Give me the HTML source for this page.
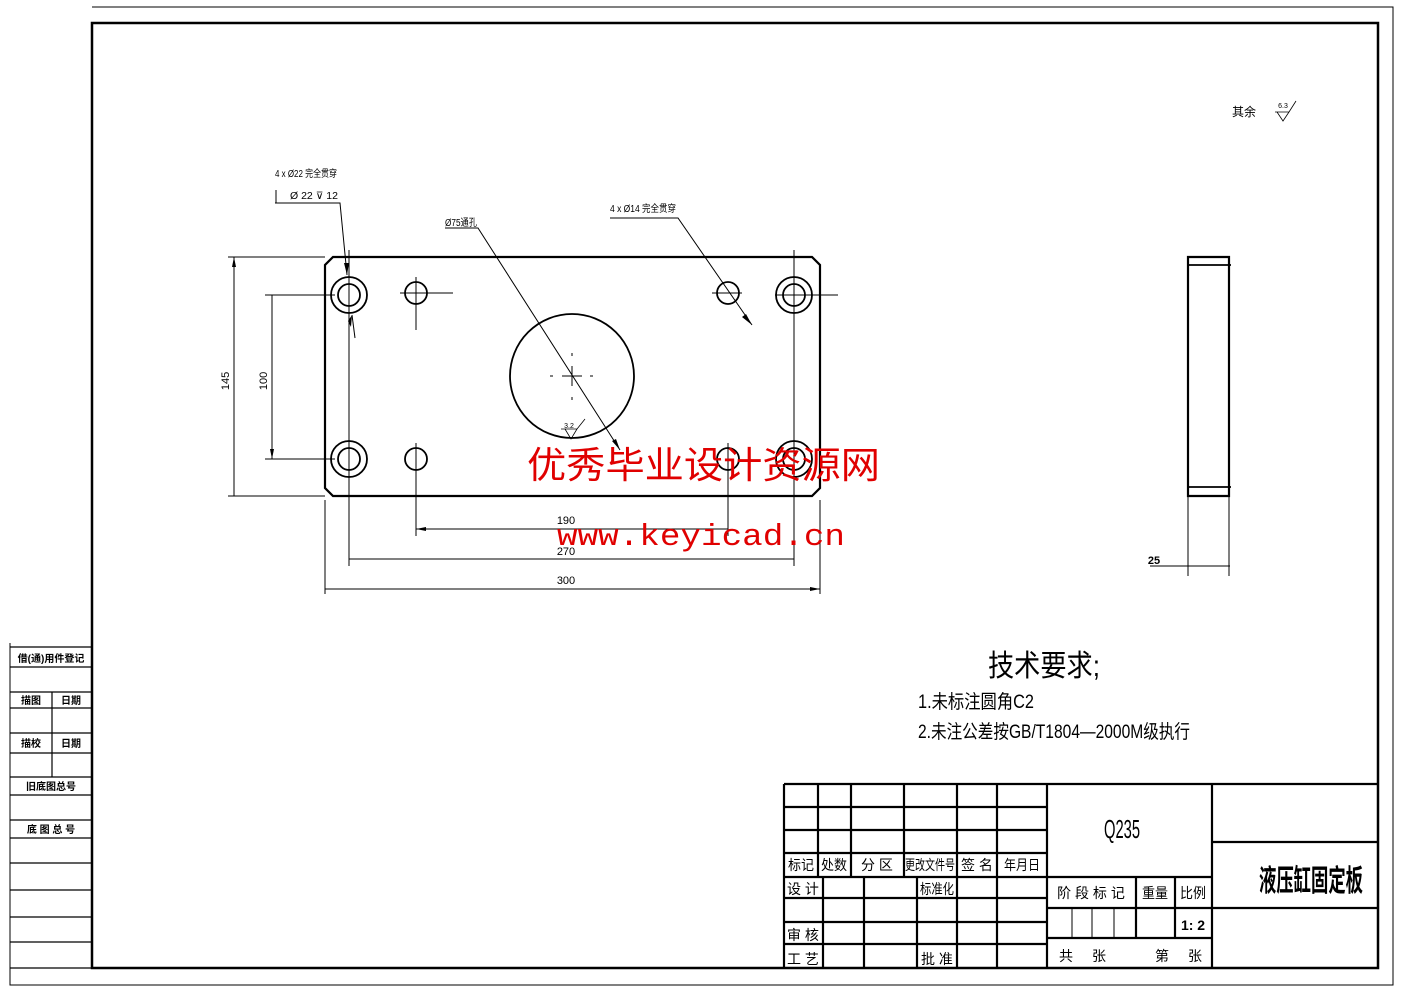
<!DOCTYPE html>
<html><head><meta charset="utf-8"><style>
html,body{margin:0;padding:0;background:#fff;}
svg{display:block;}
text{font-family:"Liberation Sans","Noto Sans CJK SC",sans-serif;fill:#000;}
</style></head><body>
<svg width="1403" height="992" viewBox="0 0 1403 992" xmlns="http://www.w3.org/2000/svg">
<defs>
<marker id="a" viewBox="0 0 10 4" refX="10" refY="2" markerWidth="10" markerHeight="4" orient="auto-start-reverse" markerUnits="userSpaceOnUse"><path d="M0,0L10,2L0,4z" fill="#000"/></marker>
</defs>
<g fill="none" stroke="#000" stroke-width="1">
<path d="M92,7H1393V985H10V643"/>
</g>
<rect x="92" y="23" width="1286" height="945" fill="none" stroke="#000" stroke-width="2.5"/>
<g stroke="#000" stroke-width="1.2" fill="none">
<path d="M10,647H92M10,667H92M10,692H92M10,708H92M10,733H92M10,753H92M10,777H92M10,795H92M10,820H92M10,838H92M10,863H92M10,890H92M10,917H92M10,942H92M10,968H92"/>
<path d="M52,692V777"/>
</g>
<g font-size="10" font-weight="bold" text-anchor="middle">
<text x="51" y="662">借(通)用件登记</text>
<text x="31" y="704">描图</text><text x="71" y="704">日期</text>
<text x="31" y="747">描校</text><text x="71" y="747">日期</text>
<text x="51" y="790">旧底图总号</text>
<text x="51" y="833">底 图 总 号</text>
</g>
<g stroke="#000" stroke-width="2.2" fill="none">
<path d="M784,784H1378M784,968V784M1047,784V968M1212,784V968"/>
<path d="M784,807H1047M784,830H1047M784,853H1047M784,877H1047"/>
<path d="M818,784V877M851,784V877M904,784V877M957,784V877M997,784V877"/>
<path d="M784,898H1047M784,922H1047M784,944H1047"/>
<path d="M823,877V968M864,877V968M917,877V968M957,877V968M997,877V968"/>
<path d="M1212,842H1378M1212,908H1378"/>
<path d="M1047,877H1212M1047,908H1212M1047,938H1212M1136,877V938M1175,877V938"/>
</g>
<path d="M1072,908V938M1092,908V938M1114,908V938" stroke="#000" stroke-width="1"/>
<g font-size="14" text-anchor="middle">
<text x="801" y="870" textLength="26" lengthAdjust="spacingAndGlyphs">标记</text>
<text x="834" y="870" textLength="26" lengthAdjust="spacingAndGlyphs">处数</text>
<text x="877" y="870">分 区</text>
<text x="930" y="870" textLength="50" lengthAdjust="spacingAndGlyphs">更改文件号</text>
<text x="977" y="870">签 名</text>
<text x="1022" y="870" textLength="36" lengthAdjust="spacingAndGlyphs">年月日</text>
<text x="803" y="894">设 计</text>
<text x="937" y="894" textLength="34" lengthAdjust="spacingAndGlyphs">标准化</text>
<text x="803" y="940">审 核</text>
<text x="803" y="964">工 艺</text>
<text x="937" y="964">批 准</text>
<text x="1091" y="898">阶 段 标 记</text>
<text x="1155" y="898" textLength="26" lengthAdjust="spacingAndGlyphs">重量</text>
<text x="1193" y="898" textLength="26" lengthAdjust="spacingAndGlyphs">比例</text>
<text x="1193" y="930" font-weight="bold">1: 2</text>
<text x="1066" y="961">共</text><text x="1099" y="961">张</text>
<text x="1162" y="961">第</text><text x="1195" y="961">张</text>
</g>
<text x="1122" y="838" font-size="26" text-anchor="middle" textLength="36" lengthAdjust="spacingAndGlyphs">Q235</text>
<text x="1311" y="891" font-size="30" font-weight="bold" text-anchor="middle" textLength="104" lengthAdjust="spacingAndGlyphs">液压缸固定板</text>

<g fill="none" stroke="#000">
<path d="M333,257H812L820,265V488L812,496H333L325,488V265Z" stroke-width="2.2"/>
<g stroke-width="1.8">
<circle cx="349" cy="295" r="18"/><circle cx="349" cy="295" r="11"/>
<circle cx="794" cy="295" r="18"/><circle cx="794" cy="295" r="11"/>
<circle cx="349" cy="459" r="18"/><circle cx="349" cy="459" r="11"/>
<circle cx="794" cy="459" r="18"/><circle cx="794" cy="459" r="11"/>
<circle cx="416" cy="293" r="11"/><circle cx="416" cy="459" r="11"/>
<circle cx="728" cy="293" r="11"/><circle cx="728" cy="459" r="11"/>
<circle cx="572" cy="376" r="62"/>
</g>
<g stroke-width="1">
<path d="M400,293H453M416,277V330M416,443V495M728,443V495M712,293H742M775,295H838"/>
<path d="M349,250V566M794,250V566M325,500V594M820,500V594M416,480V536M728,480V536"/>
<path d="M562,376H582M572,366V386M550,376H553M590,376H593M572,353V356M572,397V400" />
<path d="M228,257H325M228,496H325M265,295H335M265,459H335"/>
<path d="M234,257V496M272,295V459" marker-start="url(#a)" marker-end="url(#a)"/>
<path d="M416,529H728M349,559H794M325,589H820" marker-start="url(#a)" marker-end="url(#a)"/>
<path d="M275,203H340L347,275"/>
<path d="M352,315L355,338"/>
<path d="M445,228H478L620,450"/>
<path d="M610,218H678L752,325"/>
<path d="M1150,566H1230M1188,496V576M1229,496V576"/>
</g>
<path d="M1188,257H1229V496H1188Z" stroke-width="2.2"/>
<path d="M1188,265H1231M1188,487H1231" stroke-width="1.8"/>
<path d="M565,429L571,439L577,429H561M577,429L585,419" stroke-width="0.8"/>
<path d="M1277,112L1283,121L1289,112H1275M1289,112L1296,101" stroke-width="0.8"/>
</g>
<g fill="#000">
<path d="M347,275l-3,-12l5,0z"/><path d="M352,315l-1,12l-3,-6z"/>
<path d="M752,325l-10,-8l4,-3z"/><path d="M620,450l-8,-9l4,-2z"/>
</g>
<g font-size="11" text-anchor="middle">
<text transform="translate(229,381) rotate(-90)">145</text>
<text transform="translate(267,381) rotate(-90)">100</text>
<text x="566" y="524">190</text>
<text x="566" y="555">270</text>
<text x="566" y="584">300</text>
<text x="1154" y="564" font-weight="bold">25</text>
<text x="306" y="177" font-size="10" textLength="62" lengthAdjust="spacingAndGlyphs">4 x Ø22 完全贯穿</text>
<text x="314" y="199" font-size="10" textLength="48" lengthAdjust="spacingAndGlyphs">Ø 22 ⊽ 12</text>
<text x="461" y="226" font-size="10" textLength="32" lengthAdjust="spacingAndGlyphs">Ø75通孔</text>
<text x="643" y="212" font-size="10" textLength="66" lengthAdjust="spacingAndGlyphs">4 x Ø14 完全贯穿</text>
<text x="569" y="428" font-size="7">3.2</text>
<text x="1283" y="108" font-size="7">6.3</text>
<text x="1244" y="116" font-size="12">其余</text>
</g>
<path d="M276,203V190" stroke="#000"/>
<text x="988" y="676" font-size="30" textLength="112" lengthAdjust="spacingAndGlyphs">技术要求;</text>
<text x="918" y="708" font-size="19" textLength="116" lengthAdjust="spacingAndGlyphs">1.未标注圆角C2</text>
<text x="918" y="738" font-size="19" textLength="272" lengthAdjust="spacingAndGlyphs">2.未注公差按GB/T1804—2000M级执行</text>
<text x="527" y="478" font-size="37" style="fill:#e00000" textLength="353" lengthAdjust="spacingAndGlyphs">优秀毕业设计资源网</text>
<text x="557" y="545" font-size="31" style="fill:#e00000;font-family:'Liberation Mono',monospace;font-weight:normal" textLength="288" lengthAdjust="spacingAndGlyphs">www.keyicad.cn</text>
</svg>
</body></html>
